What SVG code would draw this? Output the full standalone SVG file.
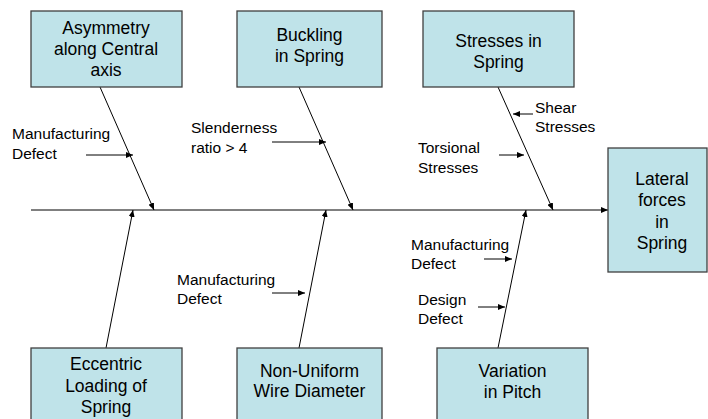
<svg xmlns="http://www.w3.org/2000/svg" width="708" height="419" viewBox="0 0 708 419">
<defs>
<marker id="ah" markerWidth="7" markerHeight="6" refX="7" refY="3" orient="auto" markerUnits="userSpaceOnUse">
<path d="M0,0 L7,3 L0,6 Z" fill="#000"/>
</marker>
<style>
.box{fill:#BFE3E9;stroke:#404040;stroke-width:1.3}
.bt{font-family:"Liberation Sans",Arial,sans-serif;font-size:17.5px;fill:#000;text-anchor:middle}
.lt{font-family:"Liberation Sans",Arial,sans-serif;font-size:15.5px;fill:#000}
.ln{stroke:#000;stroke-width:1;fill:none;marker-end:url(#ah)}
</style>
</defs>
<rect width="708" height="419" fill="#fff"/>
<g id="connectors">
<line class="ln" x1="31" y1="210" x2="608" y2="210"/>
<line class="ln" x1="100" y1="87" x2="154" y2="210"/>
<line class="ln" x1="299" y1="87" x2="353" y2="210"/>
<line class="ln" x1="498" y1="87" x2="553" y2="210"/>
<line class="ln" x1="106" y1="348" x2="133" y2="210"/>
<line class="ln" x1="299" y1="348" x2="326" y2="210"/>
<line class="ln" x1="498" y1="348" x2="526" y2="210"/>
<line class="ln" x1="86" y1="155" x2="133" y2="155"/>
<line class="ln" x1="272" y1="142" x2="326" y2="142"/>
<line class="ln" x1="533" y1="114" x2="513" y2="114"/>
<line class="ln" x1="499" y1="155" x2="524" y2="155"/>
<line class="ln" x1="272" y1="293" x2="305" y2="293"/>
<line class="ln" x1="484" y1="259" x2="512" y2="259"/>
<line class="ln" x1="478" y1="307" x2="505" y2="307"/>
</g>
<g id="n-asym"><rect class="box" x="31" y="11" width="151" height="76"/>
<text class="bt" x="106" y="34">Asymmetry</text><text class="bt" x="106" y="55">along Central</text><text class="bt" x="106" y="76">axis</text></g>
<g id="n-buck"><rect class="box" x="237" y="11" width="145" height="76"/>
<text class="bt" x="309.5" y="41">Buckling</text><text class="bt" x="309.5" y="62">in Spring</text></g>
<g id="n-stress"><rect class="box" x="423" y="11" width="151" height="76"/>
<text class="bt" x="498.5" y="47">Stresses in</text><text class="bt" x="498.5" y="68">Spring</text></g>
<g id="n-lat"><rect class="box" x="608" y="148" width="99" height="124"/>
<text class="bt" x="662" y="185">Lateral</text><text class="bt" x="662" y="206">forces</text><text class="bt" x="662" y="228">in</text><text class="bt" x="662" y="249">Spring</text></g>
<g id="n-ecc"><rect class="box" x="31" y="348" width="151" height="80"/>
<text class="bt" x="106" y="370">Eccentric</text><text class="bt" x="106" y="392">Loading of</text><text class="bt" x="106" y="413">Spring</text></g>
<g id="n-wire"><rect class="box" x="237" y="348" width="145" height="80"/>
<text class="bt" x="309.5" y="377">Non-Uniform</text><text class="bt" x="309.5" y="397">Wire Diameter</text></g>
<g id="n-pitch"><rect class="box" x="437" y="348" width="151" height="80"/>
<text class="bt" x="512.5" y="377">Variation</text><text class="bt" x="512.5" y="398">in Pitch</text></g>
<g id="labels">
<text class="lt" x="12" y="139">Manufacturing</text><text class="lt" x="12" y="159">Defect</text>
<text class="lt" x="191" y="133">Slenderness</text><text class="lt" x="191" y="153">ratio &gt; 4</text>
<text class="lt" x="535" y="113">Shear</text><text class="lt" x="535" y="132">Stresses</text>
<text class="lt" x="418" y="153">Torsional</text><text class="lt" x="418" y="173">Stresses</text>
<text class="lt" x="177" y="285">Manufacturing</text><text class="lt" x="177" y="304">Defect</text>
<text class="lt" x="411" y="250">Manufacturing</text><text class="lt" x="411" y="269">Defect</text>
<text class="lt" x="418" y="305">Design</text><text class="lt" x="418" y="324">Defect</text>
</g>
</svg>
